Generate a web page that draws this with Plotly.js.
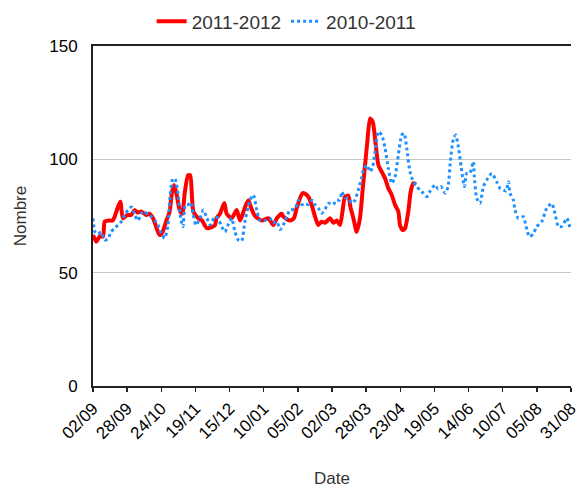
<!DOCTYPE html>
<html>
<head>
<meta charset="utf-8">
<script src="https://cdn.plot.ly/plotly-3.0.1.min.js"></script>
<style>html,body{margin:0;padding:0;background:#fff}#chart{width:584px;height:488px}</style>
</head>
<body>
<div id="chart"></div>
<script>
// Tick labels (one every 26 days from 02/09 to 31/08)
var tickLabels = ["02/09","28/09","24/10","19/11","15/12","10/01","05/02","02/03","28/03","23/04","19/05","14/06","10/07","05/08","31/08"];
var tickDays = [0,26,52,78,104,130,156,182,208,234,260,286,312,338,364];

// 2011-2012 series (day offset from 02/09, value)
var redDays = [0,2.5,5,7.6,8.9,12,15,16.5,19,20.8,22.8,26,29,31.7,34,36.8,40.6,43,45.7,49.5,50.8,53,55.9,58.4,60,61.7,63.5,66,68,69.8,72.4,74,76.4,80.2,83,86.6,90,92.9,94,96.7,100,101.8,105.6,109.4,112,115.8,118.3,120.8,123.4,128.5,133.5,137.3,140,143.7,144.9,150,153,155.1,159.4,161,164,166.5,169.1,171.6,174,176.7,180.5,183,185.6,188.1,190,191.9,194.5,196,198.3,200.8,203.3,205.4,207.2,208.9,211,213,214.8,217.3,219.9,222.4,224.9,227.5,230,232.5,233.8,235.9,237.6,240.1,241.9,243.9,246];
var redVals = [66.6,63.7,66,66,72.5,73,73,74.7,79,81.3,74,75.4,75.4,77.6,76.5,77,75.4,76,74,68,66.6,68,73,77,85,88.7,85,77.6,76,85,93,93,77,74,73,69.7,70,71,74,76,80.7,76,74,77.6,73,79,82,78,75,73,74,71,74,76,74.7,73,74,78.5,85,85,83.5,79.9,74.7,71,72.5,72,74,72,73,71,77,83.5,84,79,74,68,74,87,97.5,107.8,118,116.6,109,97.5,94.5,91.6,87.2,84.3,79.9,77,71,68.8,69.5,77,85.7,89.4,89];

// 2010-2011 series
var blueDays = [0,1.5,3.8,6,8.9,11.4,13.7,16.5,19,21.6,24.1,26.7,29.2,31.8,34.3,36.8,39.4,41.9,44.4,47,49.5,52,54.6,57.1,58.4,60.9,62.7,64.7,66.8,68.5,70.3,72.4,74.6,76.2,78.4,81.5,84,86.8,89.1,92.9,95.2,98,100.5,102.8,105.6,108.1,110.7,113.2,115.8,119.6,122.1,124.7,127.2,131,134.8,137.3,140.1,142.4,144.9,147.5,150,153.8,156.4,159,161.5,164,166.6,169.1,171.6,174.2,176.7,179.2,182.8,185.6,188.1,189.4,191.9,194.4,197,199.5,201.8,204.6,205.9,208.5,211,213,214.8,217.3,219.9,222.4,224.9,227.5,230,232.5,235.1,236.9,238.9,241.4,243.9,246.5,249,251.6,254.2,256.7,260.5,262.8,265,268.1,270.4,272,274.4,276.2,278.2,280.3,282.8,284.6,287.1,289.6,290.4,292.2,294.7,297.3,299.8,303.7,307.5,310,312.5,314.5,316.4,317.6,320.1,321.4,323.9,327.7,329.8,332.3,335.1,337.9,341.7,345.5,349.3,351.8,354.4,357.2,360.8,363.3];
var blueVals = [74,68,67,68,64.4,65,68,69.6,71,72.5,75.4,77.6,79,75.4,73,76.2,77,75.4,74.7,73,71,67.4,65.2,71,82,91.6,91,85,74,70.3,79.9,80,81,76,71,74,77.6,74,71,74.7,74,70.3,68,71,74,68,64.4,64,73,82,84.3,77.6,73,73,74,72,72.5,69,71,74.7,77.6,78,82,80,80.6,80,82,80,78.4,76.2,78,80.6,80,82,82,85.7,83,82.8,80.6,82,86,92,95.3,97.5,94.5,96.8,103.4,112.2,110.7,104.9,96,89.4,92.3,101.9,110.7,111.5,104.9,94.5,90.1,88,86.5,85,83.5,86,88.7,87,88,85,88,98.2,109,110.7,105.6,96.8,88,93.8,94,99,92.3,82.8,80.6,88,90.9,93.8,90,87.2,86.5,86,90.1,85,82,77.6,74,74.7,70.3,65.9,67,70.3,72.5,78.4,80.6,76.2,70.3,70.5,74,69.6];

var font = "Liberation Sans, Arial, sans-serif";

var traces = [
  {x: redDays, y: redVals, name: "2011-2012", type: "scatter", mode: "lines",
   line: {color: "#ff0000", width: 4, shape: "spline", smoothing: 0.6}},
  {x: blueDays, y: blueVals, name: "2010-2011", type: "scatter", mode: "lines",
   line: {color: "#1e90ff", width: 3, dash: "dot", shape: "spline", smoothing: 0.6}}
];

var layout = {
  width: 584, height: 488,
  margin: {l: 93, r: 13, t: 46, b: 102},
  paper_bgcolor: "#fff", plot_bgcolor: "#fff",
  font: {family: font, size: 17, color: "#000"},
  showlegend: true,
  legend: {orientation: "h", xref: "container", yref: "container",
           x: 0.49, xanchor: "center", y: 0.995, yanchor: "top",
           font: {family: font, size: 19, color: "#333"}, itemwidth: 30, tracegroupgap: 0},
  xaxis: {
    range: [0, 364], tickvals: tickDays, ticktext: tickLabels, tickangle: -45,
    showline: true, linecolor: "#222", linewidth: 2, mirror: true,
    ticks: "outside", ticklen: 4, tickwidth: 1.5, tickcolor: "#222",
    showgrid: false, zeroline: false,
    tickfont: {family: font, size: 17, color: "#000"},
    title: {text: "Date", font: {family: font, size: 17, color: "#333"}, standoff: 36}
  },
  xaxis2: {
    overlaying: "x", range: [0, 364], tickvals: tickDays, ticks: "inside", ticklen: 4,
    tickwidth: 1.5, tickcolor: "#222", showticklabels: false, showline: false,
    showgrid: false, zeroline: false, side: "bottom", anchor: "y"
  },
  yaxis: {
    range: [0, 150], tickvals: [0, 50, 100, 150],
    ticks: "outside", ticklen: 10, tickcolor: "rgba(0,0,0,0)",
    showline: true, linecolor: "#222", linewidth: 2,
    showgrid: true, gridcolor: "#c8c8c8", gridwidth: 1.5, zeroline: false,
    tickfont: {family: font, size: 17, color: "#000"},
    title: {text: "Nombre", font: {family: font, size: 17, color: "#333"}, standoff: 18}
  }
};

Plotly.newPlot("chart", traces, layout, {staticPlot: true, displayModeBar: false});
</script>
</body>
</html>
